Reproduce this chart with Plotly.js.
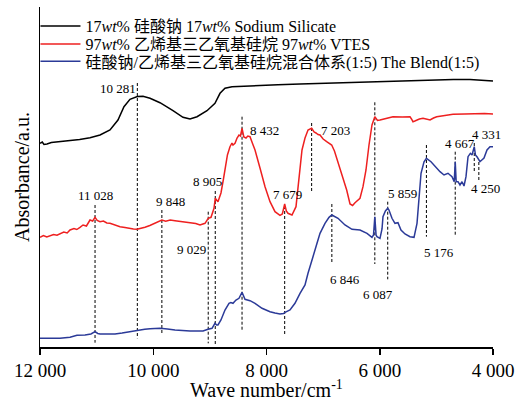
<!DOCTYPE html>
<html>
<head>
<meta charset="utf-8">
<script src="https://cdn.plot.ly/plotly-3.0.1.min.js"></script>
<style>html,body{margin:0;padding:0;background:#fff;}#chart{width:518px;height:402px;}</style>
</head>
<body>
<div id="chart"></div>
<script>
// ---- series names ----
var seriesNames = [
  "17<i>wt</i>% 硅酸钠 17<i>wt</i>% Sodium Silicate",
  "97<i>wt</i>% 乙烯基三乙氧基硅烷 97<i>wt</i>% VTES",
  "硅酸钠/乙烯基三乙氧基硅烷混合体系(1:5) The Blend(1:5)"
];
var xTitle = "Wave number/cm<sup>-1</sup>";
var yTitle = "Absorbance/a.u.";

// ---- black: sodium silicate (wave number, absorbance a.u.) ----
var blackWn = [12000,11960,11930,11876,11800,11647,11530,11417,11300,11117,10940,10764,10623,10517,10411,10281,10181,10057,9881,9651,9475,9351,9227,9051,8910,8821,8733,8609,8400,8115,7800,7408,7000,6525,6100,5642,5300,4936,4700,4406,4200,4000];
var blackAbs = [203.7,205,202.5,203,204.5,205.3,206,207,207.5,209.3,212,217,227,240.3,247.7,250.5,250.7,248.7,244.3,236.3,229.7,228,230.3,236.3,243.7,253.7,258.7,260.3,261,261.7,262.3,263,263.7,264.5,265.2,266,266.5,267.5,267.5,267.5,267,266];

// ---- red: VTES ----
var redWn = [12000,11940,11880,11823,11760,11700,11647,11580,11520,11470,11400,11350,11294,11240,11180,11117,11070,11028,10990,10940,
  10880,10820,10764,10700,10640,10587,10500,10411,10350,10287,10220,10146,10060,9969,9900,9848,9780,9700,9616,9500,
  9351,9250,9174,9086,9029,8980,8927,8905,8857,8804,8760,8733,8690,8645,8610,8592,8556,8520,8486,8460,
  8432,8400,8362,8330,8291,8250,8203,8115,8026,7938,7850,7762,7720,7679,7650,7621,7550,7479,7426,7373,
  7320,7267,7203,7160,7126,7090,7055,7000,6937,6900,6849,6800,6760,6672,6584,6525,6480,6437,6349,6296,
  6243,6190,6137,6087,6040,5996,5900,5766,5600,5466,5440,5413,5380,5347,5300,5236,5170,5112,5050,4994,
  4850,4706,4500,4288,4150,4000];
var redAbs = [109.7,111.5,110,111,112.5,111.8,113,115,114,117,118.5,117.5,119.7,122,121,127,126,129.7,126.5,125.3,
  126,124,123.7,122.5,121.5,120.3,119.5,118.3,118,117.7,118.5,119.7,121.5,123.7,125,127,125.8,127,126.3,125.5,
  124.3,123.5,122,123.7,128.7,129.7,138.7,148.7,145.3,154,168,177,192,200.3,204,202,203.7,209,212,211,
  218.7,210,209,211,210.3,204,197,179,160.3,145.3,135.3,131.7,133,143,136,133.7,132,140.3,167,197,
  209,217,218.7,215,214,212.5,212,208,205.3,204,202,196,189,174,157,143,141.5,144.3,148.7,160.3,
  177,202,222,230.3,226.5,227,228.5,230.3,230,230.3,228,225.3,226,227,228,228.7,227.5,227,229,230.3,
  231.5,232.7,233,233.7,233.5,233];

// ---- blue: blend (1:5) ----
var blueWn = [12000,11800,11647,11470,11347,11205,11100,11028,10980,10940,10800,10675,10550,10411,10287,10150,10057,9881,9750,9616,
  9351,9121,9033,8962,8910,8880,8857,8804,8733,8662,8630,8592,8539,8486,8432,8400,8380,8291,8203,8079,
  7938,7850,7762,7700,7673,7585,7497,7408,7320,7267,7214,7179,7108,7055,6967,6896,6846,6737,6614,6490,
  6349,6225,6137,6110,6087,6065,6049,5996,5960,5943,5900,5859,5837,5784,5731,5678,5625,5554,5466,5395,
  5342,5307,5271,5218,5176,5095,5024,4936,4865,4795,4724,4685,4667,4650,4618,4583,4547,4512,4477,4441,
  4400,4370,4331,4310,4280,4250,4230,4159,4106,4053,4000];
var blueAbs = [8.7,8.5,8.7,9.7,11.7,12,13,15.3,13.5,13,12.8,13,14,15.3,17,17.8,18.3,18.7,18,17,
  16,16,17.7,18.7,23.7,22,22,27,37,43.7,44.5,43.7,47,48.7,54.7,50,47.7,46.3,43.7,38.7,
  35.3,34,33,33.5,34.7,37,43.7,53.7,62,73.7,85,90.3,103.7,113.7,123.7,129.7,132,128.7,122,117.7,
  117,113.7,109.7,112,130.3,112,110.3,108.7,118,130.3,136,138.7,137,128.7,123.7,124.3,117,113,110.3,109.7,
  123.7,150.3,173.7,185.3,188.7,185.3,180.3,175.3,172,173.7,170.3,165.3,185.3,165.3,165.3,162,165.3,161,170.3,190.3,
  193.7,192,200.3,192,190,187.7,185.3,189,197,200.3,200.3];

// ---- marked peaks (dashed guide lines) ----
var peakWn  = [10281,11028,9848,9029,8905,8432,7679,7203,6846,6087,5859,5176,4667,4331,4250];
var peakTop = [264,142,137,135.3,156,230.3,141,224,143,244.7,145.3,202,195.3,204,185];
var peakBot = [8.7,4.3,13,3.7,1,15.3,11,155.3,85,83,67.7,110.3,110.3,175,165];
var peakLabels = ["10 281","11 028","9 848","9 029","8 905","8 432","7 679","7 203","6 846","6 087","5 859","5 176","4 667","4 331","4 250"];

// ---- axis ticks ----
var tickVals = [12000,10000,8000,6000,4000];
var tickText = ["12 000","10 000","8 000","6 000","4 000"];

// label pixel offsets from the top of each guide line (style, not data)
var labelDx = [-19,0,9,-17,-8,22,3,24,13,3.5,15,12.6,4.5,12.4,6.2];
var labelDy = [-5,9.3,9,-37.3,9.3,-14,11.7,-7,-75,-192,8.4,-107.7,8.4,9,-26.3];

var FONT = "Liberation Serif, Times New Roman, Noto Sans CJK SC, serif";

// dashed lines trace built from peak arrays
var dX = [], dY = [];
for (var i = 0; i < peakWn.length; i++) {
  dX.push(peakWn[i], peakWn[i], null);
  dY.push(peakTop[i], peakBot[i], null);
}

var traces = [
  {x: dX, y: dY, mode: "lines", line: {color: "#000", width: 1, dash: "3px,2px"}, showlegend: false, hoverinfo: "skip"},
  {x: blackWn, y: blackAbs, mode: "lines", name: seriesNames[0], legend: "legend", line: {color: "#000000", width: 1.5}},
  {x: redWn, y: redAbs, mode: "lines", name: seriesNames[1], legend: "legend2", line: {color: "#ee2020", width: 1.5}},
  {x: blueWn, y: blueAbs, mode: "lines", name: seriesNames[2], legend: "legend3", line: {color: "#2b3a98", width: 1.5}}
];

var annotations = [];
for (var j = 0; j < peakWn.length; j++) {
  annotations.push({
    x: peakWn[j], y: peakTop[j], xref: "x", yref: "y",
    text: peakLabels[j], showarrow: false,
    xanchor: "center", yanchor: "middle",
    xshift: labelDx[j], yshift: labelDy[j],
    font: {family: FONT, size: 13, color: "#000"}
  });
}
// x-axis title placed as paper annotation (Plotly ignores standoff without automargin)
annotations.push({
  x: 0.5, y: -0.124, xref: "paper", yref: "paper",
  text: xTitle, showarrow: false, xanchor: "center", yanchor: "middle",
  font: {family: FONT, size: 20, color: "#000"}
});

function mkLegend(yv) {
  return {
    x: -0.01, y: yv, xanchor: "left", yanchor: "middle",
    bgcolor: "rgba(0,0,0,0)", borderwidth: 0, itemwidth: 40,
    font: {family: FONT, size: 16, color: "#000"}
  };
}

var layout = {
  width: 518, height: 402,
  margin: {l: 40, r: 25, t: 7, b: 55},
  paper_bgcolor: "#fff", plot_bgcolor: "#fff",
  font: {family: FONT, size: 16, color: "#000"},
  showlegend: true,
  legend: mkLegend(0.944),
  legend2: mkLegend(0.891),
  legend3: mkLegend(0.840),
  xaxis: {
    range: [12000, 4000], showgrid: false, zeroline: false,
    showline: true, linecolor: "#000", linewidth: 1.5,
    ticks: "outside", ticklen: 6, tickwidth: 1.5, tickcolor: "#000",
    tickmode: "array", tickvals: tickVals, ticktext: tickText,
    tickfont: {family: FONT, size: 19, color: "#000"},
    automargin: false
  },
  yaxis: {
    range: [0, 340], showgrid: false, zeroline: false,
    showline: true, linecolor: "#000", linewidth: 1.5,
    ticks: "", showticklabels: false,
    title: {text: yTitle, font: {family: FONT, size: 20, color: "#000"}, standoff: 3},
    automargin: false
  },
  annotations: annotations,
  hovermode: false
};

Plotly.newPlot("chart", traces, layout, {displayModeBar: false, staticPlot: true});
</script>
</body>
</html>
